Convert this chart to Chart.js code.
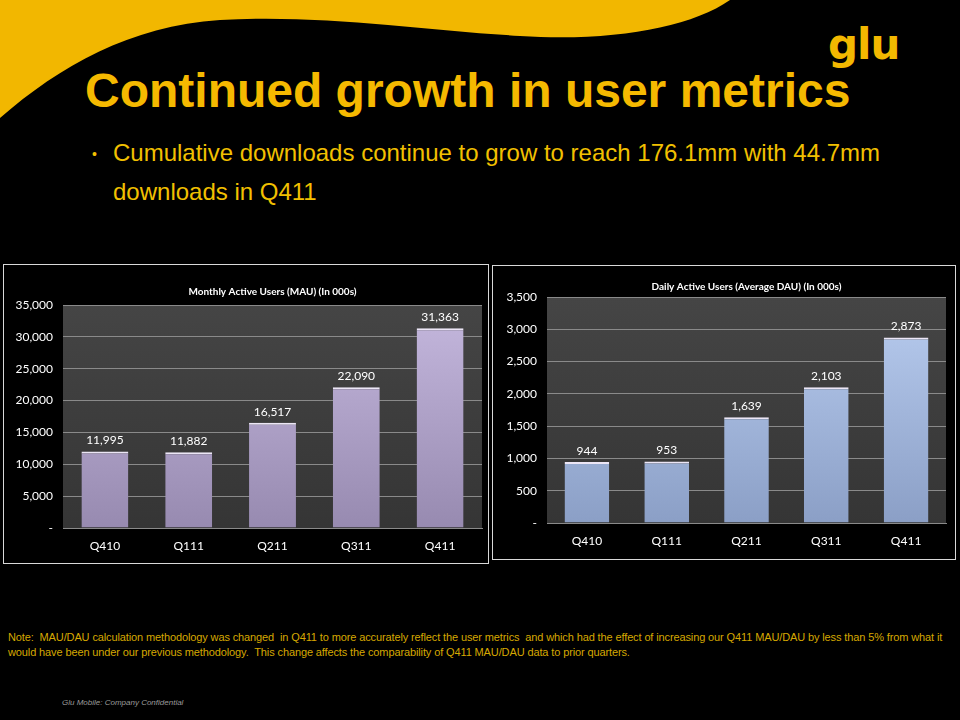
<!DOCTYPE html>
<html><head><meta charset="utf-8">
<script src="https://cdn.jsdelivr.net/npm/chart.js@4.4.1/dist/chart.umd.min.js"></script>
<style>
html,body{margin:0;padding:0;background:#000;}
#page{position:relative;width:960px;height:720px;background:#000;overflow:hidden;font-family:"Liberation Sans",Arial,sans-serif;}
#swoosh{position:absolute;left:0;top:0;}
#logo{position:absolute;left:828px;top:20px;font-family:"DejaVu Sans",sans-serif;font-weight:bold;font-size:42px;color:#f3b800;letter-spacing:-1px;line-height:50px;}
#title{position:absolute;left:85px;top:63px;font-size:48px;font-weight:bold;color:#f5b900;white-space:nowrap;}
.bul{position:absolute;left:113px;font-size:24px;color:#f2c000;white-space:nowrap;}
#dot{position:absolute;left:92px;top:146px;font-size:14px;color:#f2c000;}
.panel{position:absolute;border:1px solid #d9d9d9;background:#000;}
.panel canvas{display:block;}
.note{position:absolute;left:8px;font-size:11px;color:#d6a800;white-space:pre;letter-spacing:-0.12px;}
#conf{position:absolute;left:62px;top:698px;font-size:8px;font-style:italic;color:#9a9a9a;}
</style></head>
<body><div id="page">
<svg id="swoosh" width="960" height="140"><path d="M0,0 L730,0 C690,28 610,42 520,36 C420,30 320,14 220,20 C130,26 60,66 0,118 Z" fill="#f2b700"/></svg>
<div id="logo">glu</div>
<div id="title">Continued growth in user metrics</div>
<div id="dot">•</div>
<div class="bul" style="top:139px">Cumulative downloads continue to grow to reach 176.1mm with 44.7mm</div>
<div class="bul" style="top:178px">downloads in Q411</div>
<div class="panel" style="left:3px;top:264px;width:484px;height:298px"><canvas id="mau" width="484" height="298"></canvas></div>
<div class="panel" style="left:492px;top:265px;width:462px;height:293px"><canvas id="dau" width="462" height="293"></canvas></div>
<div class="note" style="top:631px">Note:  MAU/DAU calculation methodology was changed  in Q411 to more accurately reflect the user metrics  and which had the effect of increasing our Q411 MAU/DAU by less than 5% from what it</div>
<div class="note" style="top:646px">would have been under our previous methodology.  This change affects the comparability of Q411 MAU/DAU data to prior quarters.</div>
<div id="conf">Glu Mobile:  Company  Confidential</div>
</div>
<script>
const quarters = ["Q410","Q111","Q211","Q311","Q411"];
const mauValues = [11995, 11882, 16517, 22090, 31363];
const dauValues = [944, 953, 1639, 2103, 2873];
const mauTicksMax = 35000, mauStep = 5000;
const dauTicksMax = 3500, dauStep = 500;
const mauTitle = "Monthly Active Users (MAU) (In 000s)";
const dauTitle = "Daily Active Users (Average DAU) (In 000s)";

Chart.defaults.font.family = "Lato, 'Open Sans', sans-serif";
Chart.defaults.color = "#ffffff";

const fmt = v => v === 0 ? "-" : v.toLocaleString("en-US");

const plotBg = {
  id: "plotBg",
  beforeDraw(chart){
    const {ctx, chartArea:a} = chart;
    ctx.save();
    const g = ctx.createLinearGradient(0,a.top,0,a.bottom);
    g.addColorStop(0,"#454545"); g.addColorStop(1,"#353535");
    ctx.fillStyle = g;
    ctx.fillRect(a.left,a.top,a.right-a.left,a.bottom-a.top);
    ctx.restore();
  }
};
const valLabels = {
  id: "valLabels",
  afterDatasetsDraw(chart){
    const ctx = chart.ctx;
    ctx.save();
    ctx.fillStyle = "#ffffff";
    ctx.font = "12px Lato, 'Open Sans', sans-serif";
    ctx.textAlign = "center";
    ctx.textBaseline = "bottom";
    const ds = chart.data.datasets[0];
    chart.getDatasetMeta(0).data.forEach((bar,i)=>{
      ctx.fillText(fmt(ds.data[i]), bar.x, bar.y - 5);
    });
    ctx.restore();
  }
};

function makeChart(id, values, max, step, title, top, bot, yW, xH, rightPad, tPadTop, tPadBot){
  const ctxEl = document.getElementById(id);
  return new Chart(ctxEl, {
    type: "bar",
    data: { labels: quarters, datasets: [{
      data: values,
      backgroundColor: (c)=>{
        const a = c.chart.chartArea;
        if(!a) return bot;
        const g = c.chart.ctx.createLinearGradient(0,a.top,0,a.bottom);
        g.addColorStop(0, top); g.addColorStop(1, bot);
        return g;
      },
      borderColor: "#ece6f6",
      borderWidth: {top:2, left:0, right:0, bottom:0},
      borderSkipped: "bottom",
      barPercentage: 0.56,
      categoryPercentage: 1
    }]},
    options: {
      responsive: false, animation: false,
      layout: { padding: { left: 0, right: rightPad, top: 0, bottom: 0 } },
      plugins: {
        legend: { display: false },
        tooltip: { enabled: false },
        title: { display: true, fullSize: false, text: title, color: "#ffffff",
          font: { size: 10, weight: "bold" }, padding: { top: tPadTop, bottom: tPadBot } }
      },
      scales: {
        x: {
          grid: { display: false },
          border: { color: "#8a8a8a" },
          ticks: { color: "#ffffff", font: { size: 12 }, padding: 3 },
          afterFit: s => { s.height = xH; }
        },
        y: {
          min: 0, max: max,
          ticks: { stepSize: step, color: "#ffffff", font: { size: 12 }, padding: 10, callback: v => fmt(v) },
          grid: { color: "#8a8a8a", drawTicks: false },
          border: { display: false },
          afterFit: s => { s.width = yW; }
        }
      }
    },
    plugins: [plotBg, valLabels]
  });
}
makeChart("mau", mauValues, mauTicksMax, mauStep, mauTitle, "#c5b8de", "#978ab0", 59, 35, 6, 21, 7);
makeChart("dau", dauValues, dauTicksMax, dauStep, dauTitle, "#b9cdf0", "#8b9fc6", 54, 36, 9, 15, 4);
</script>
</body></html>
